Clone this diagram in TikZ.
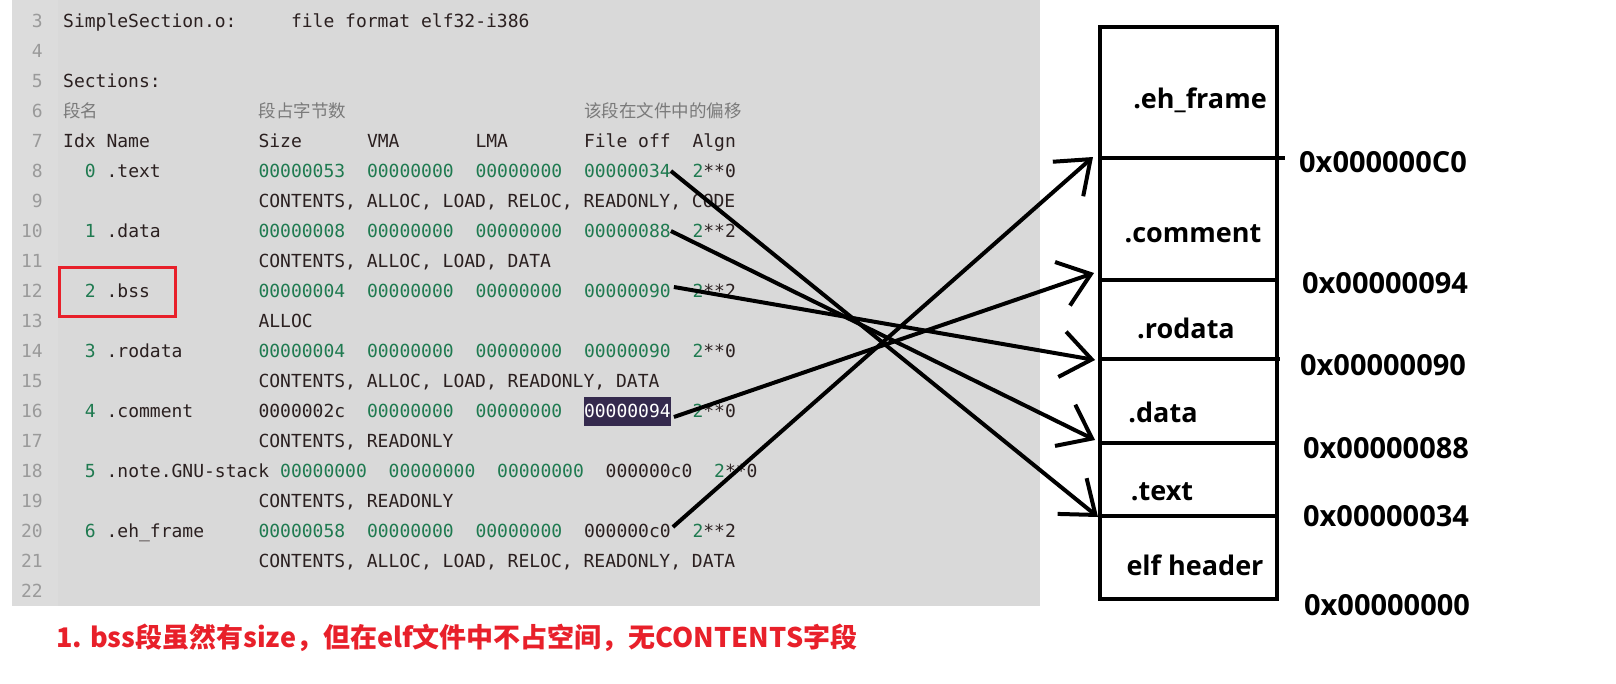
\documentclass[tikz,border=0pt]{standalone}
\usepackage{fontspec}
\setmonofont{DejaVu Sans Mono}
\newfontfamily\cjk{Noto Sans CJK SC}
\newfontfamily\labfont{Open Sans}
\usetikzlibrary{arrows.meta,positioning}

\definecolor{panelgray}{HTML}{D9D9D9}
\definecolor{guttergray}{HTML}{DCDCDC}
\definecolor{numgreen}{HTML}{1F7A50}
\definecolor{codeblack}{HTML}{2B2020}
\definecolor{linegray}{HTML}{9A9A9A}
\definecolor{notegray}{HTML}{7A7A7A}
\definecolor{selbg}{HTML}{352A4E}
\definecolor{markred}{HTML}{E8202A}

\newcommand{\colw}{10.85}
% one cell of the listing: [options]{name}{column}{line}{text}
\newcommand{\lstcell}[5][]{\node[code,#1] (#2) at ({63+#3*\colw},{21+(#4-3)*30}) {#5};}

\tikzset{
  code/.style={anchor=west, inner sep=0pt, text height=13pt, text depth=0pt,
    font=\ttfamily\fontsize{18}{20}\selectfont, text=codeblack},
  num/.style={text=numgreen},
  lnum/.style={code, anchor=east, text=linegray},
  note/.style={font=\cjk\fontsize{17.5}{20}\selectfont, text=notegray},
  sect/.style={inner sep=0pt, font=\labfont\bfseries\fontsize{27}{30}\selectfont},
  addr/.style={sect, font=\labfont\bfseries\fontsize{29}{32}\selectfont},
  box/.style={line width=4pt},
  link/.style={line width=4pt, -{Straight Barb[length=30pt,width=46pt]}}
}

\begin{document}
\begin{tikzpicture}[x=1pt,y=-1pt]
\useasboundingbox (0,0) rectangle (1616,683);

% listing panel
\fill[panelgray] (12,0) rectangle (1040,606);
\fill[guttergray] (12,0) rectangle (58,606);

\foreach \n in {3,...,22}
  \node[lnum] (ln\n) at (43,{21+(\n-3)*30}) {\n};

\lstcell{title}{0}{3}{SimpleSection.o:}
\lstcell{fmt}{21}{3}{file format elf32-i386}
\lstcell{secs}{0}{5}{Sections:}
\lstcell[note]{nname}{0}{6}{段名}
\lstcell[note]{nsize}{18}{6}{段占字节数}
\lstcell[note]{noff}{48}{6}{该段在文件中的偏移}
\lstcell{hidx}{0}{7}{Idx Name}
\lstcell{hsize}{18}{7}{Size}
\lstcell{hvma}{28}{7}{VMA}
\lstcell{hlma}{38}{7}{LMA}
\lstcell{hoff}{48}{7}{File off}
\lstcell{halgn}{58}{7}{Algn}

\lstcell[num]{r8idx}{2}{8}{0}
\lstcell{r8name}{4}{8}{.text}
\lstcell[num]{r8size}{18}{8}{00000053}
\lstcell[num]{r8vma}{28}{8}{00000000}
\lstcell[num]{r8lma}{38}{8}{00000000}
\lstcell[num]{r8off}{48}{8}{00000034}
\lstcell{r8algn}{58}{8}{\textcolor{numgreen}{2}**0}
\lstcell{r9flags}{18}{9}{CONTENTS, ALLOC, LOAD, RELOC, READONLY, CODE}

\lstcell[num]{r10idx}{2}{10}{1}
\lstcell{r10name}{4}{10}{.data}
\lstcell[num]{r10size}{18}{10}{00000008}
\lstcell[num]{r10vma}{28}{10}{00000000}
\lstcell[num]{r10lma}{38}{10}{00000000}
\lstcell[num]{r10off}{48}{10}{00000088}
\lstcell{r10algn}{58}{10}{\textcolor{numgreen}{2}**2}
\lstcell{r11flags}{18}{11}{CONTENTS, ALLOC, LOAD, DATA}

\lstcell[num]{r12idx}{2}{12}{2}
\lstcell{r12name}{4}{12}{.bss}
\lstcell[num]{r12size}{18}{12}{00000004}
\lstcell[num]{r12vma}{28}{12}{00000000}
\lstcell[num]{r12lma}{38}{12}{00000000}
\lstcell[num]{r12off}{48}{12}{00000090}
\lstcell{r12algn}{58}{12}{\textcolor{numgreen}{2}**2}
\lstcell{r13flags}{18}{13}{ALLOC}

\lstcell[num]{r14idx}{2}{14}{3}
\lstcell{r14name}{4}{14}{.rodata}
\lstcell[num]{r14size}{18}{14}{00000004}
\lstcell[num]{r14vma}{28}{14}{00000000}
\lstcell[num]{r14lma}{38}{14}{00000000}
\lstcell[num]{r14off}{48}{14}{00000090}
\lstcell{r14algn}{58}{14}{\textcolor{numgreen}{2}**0}
\lstcell{r15flags}{18}{15}{CONTENTS, ALLOC, LOAD, READONLY, DATA}

\lstcell[num]{r16idx}{2}{16}{4}
\lstcell{r16name}{4}{16}{.comment}
\lstcell{r16size}{18}{16}{0000002c}
\lstcell[num]{r16vma}{28}{16}{00000000}
\lstcell[num]{r16lma}{38}{16}{00000000}
\lstcell[fill=selbg,text=white,minimum height=29pt]{r16off}{48}{16}{00000094}
\lstcell{r16algn}{58}{16}{\textcolor{numgreen}{2}**0}
\lstcell{r17flags}{18}{17}{CONTENTS, READONLY}

\lstcell[num]{r18idx}{2}{18}{5}
\lstcell{r18name}{4}{18}{.note.GNU-stack}
\lstcell[num]{r18size}{20}{18}{00000000}
\lstcell[num]{r18vma}{30}{18}{00000000}
\lstcell[num]{r18lma}{40}{18}{00000000}
\lstcell{r18off}{50}{18}{000000c0}
\lstcell{r18algn}{60}{18}{\textcolor{numgreen}{2}**0}
\lstcell{r19flags}{18}{19}{CONTENTS, READONLY}

\lstcell[num]{r20idx}{2}{20}{6}
\lstcell{r20name}{4}{20}{.eh\_frame}
\lstcell[num]{r20size}{18}{20}{00000058}
\lstcell[num]{r20vma}{28}{20}{00000000}
\lstcell[num]{r20lma}{38}{20}{00000000}
\lstcell{r20off}{48}{20}{000000c0}
\lstcell{r20algn}{58}{20}{\textcolor{numgreen}{2}**2}
\lstcell{r21flags}{18}{21}{CONTENTS, ALLOC, LOAD, RELOC, READONLY, DATA}

\draw[markred, line width=3pt] (59,267) rectangle (175,316);

\node[anchor=west, inner sep=0pt, text=markred,
  font=\cjk\bfseries\fontsize{27}{31}\selectfont] (bssnote) at (56,638)
  {1. bss段虽然有size，但在elf文件中不占空间，无CONTENTS字段};

% file layout
\draw[box] (1100,27) rectangle (1277,599);
\draw[box] (1098,158) -- (1285,158);
\draw[box] (1100,280) -- (1277,280);
\draw[box] (1100,359) -- (1280,359);
\draw[box] (1100,443) -- (1277,443);
\draw[box] (1100,516) -- (1277,516);

\node[sect] (ehframe) at (1200,100) {.eh\_frame};
\node[sect] (comment) at (1193,234) {.comment};
\node[sect] (rodata) at (1186,328) {.rodata};
\node[sect] (data) at (1163,412) {.data};
\node[sect] (text) at (1162,492) {.text};
\node[sect] (elfhdr) at (1195,565) {elf header};

\node[addr] (addrC0) at (1383,162) {0x000000C0};
\node[addr] (addr94) at (1385,283) {0x00000094};
\node[addr] (addr90) at (1383,365) {0x00000090};
\node[addr] (addr88) at (1386,448) {0x00000088};
\node[addr] (addr34) at (1386,516) {0x00000034};
\node[addr] (addr00) at (1387,605) {0x00000000};

\coordinate (atC0) at (1093,157);
\coordinate (at94) at (1094,273);
\coordinate (at90) at (1095,360);
\coordinate (at88) at (1095,440);
\coordinate (at34) at (1098,517);

\draw[link] (r8off.east) -- (at34);
\draw[link] (r10off.east) -- (at88);
\draw[link] ([xshift=3pt,yshift=4pt]r12off.east) -- (at90);
\draw[link] ([xshift=3pt,yshift=-6pt]r16off.east) -- (at94);
\draw[link] ([xshift=2pt,yshift=4pt]r20off.east) -- (atC0);
\end{tikzpicture}
\end{document}
